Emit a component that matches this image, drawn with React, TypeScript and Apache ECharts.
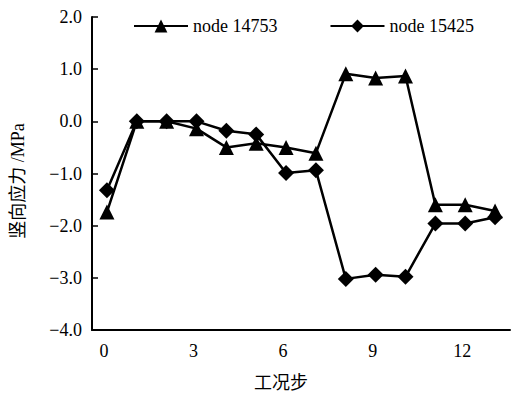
import React, { useEffect, useRef } from "react";
import * as echarts from "echarts";

const steps = ["0", "1", "2", "3", "4", "5", "6", "7", "8", "9", "10", "11", "12", "13"];
const node14753 = [-1.74, 0.0, 0.0, -0.14, -0.5, -0.42, -0.5, -0.61, 0.91, 0.83, 0.87, -1.6, -1.6, -1.72];
const node15425 = [-1.32, 0.0, 0.0, 0.0, -0.18, -0.25, -0.99, -0.94, -3.02, -2.94, -2.98, -1.96, -1.96, -1.84];
const seriesNames = ["node 14753", "node 15425"];
const xAxisName = "工况步";
const yAxisName = "竖向应力 /MPa";

const serif = "Liberation Serif, Noto Sans CJK SC, serif";

export default function App() {
  const ref = useRef<HTMLDivElement>(null);
  useEffect(() => {
    if (!ref.current) return;
    const chart = echarts.init(ref.current, undefined, { renderer: "svg" });
    chart.setOption({
      animation: false,
      backgroundColor: "#fff",
      grid: { left: 92, right: 8, top: 17, bottom: 69, containLabel: false },
      legend: {
        top: 12,
        left: 128,
        itemWidth: 54,
        itemHeight: 16,
        itemGap: 52,
        textStyle: { fontFamily: serif, fontSize: 18, color: "#000" },
        data: seriesNames,
      },
      graphic: [
        {
          type: "text",
          x: 281,
          y: 383,
          style: {
            text: xAxisName,
            fontFamily: serif,
            fontSize: 18,
            fill: "#000",
            align: "center",
            verticalAlign: "middle",
          },
        },
        {
          type: "text",
          x: 18,
          y: 181,
          rotation: Math.PI / 2,
          style: {
            text: yAxisName,
            fontFamily: serif,
            fontSize: 18,
            fill: "#000",
            align: "center",
            verticalAlign: "middle",
          },
        },
      ],
      xAxis: {
        type: "category",
        data: steps,
        boundaryGap: true,
        axisLine: { onZero: false, lineStyle: { color: "#000", width: 2 } },
        axisTick: { inside: true, length: 6, interval: 0, lineStyle: { color: "#000", width: 1.5 } },
        axisLabel: {
          interval: 2,
          margin: 12,
          fontFamily: serif,
          fontSize: 18,
          color: "#000",
          padding: [0, 6, 0, 0],
        },
        splitLine: { show: false },
      },
      yAxis: {
        type: "value",
        min: -4,
        max: 2,
        interval: 1,
        axisLine: { show: true, lineStyle: { color: "#000", width: 2 } },
        axisTick: { show: true, inside: true, length: 6, lineStyle: { color: "#000", width: 1.5 } },
        axisLabel: {
          margin: 10,
          fontFamily: serif,
          fontSize: 18,
          color: "#000",
          formatter: (v: number) => (v < 0 ? "\u2212" + Math.abs(v).toFixed(1) : v.toFixed(1)),
        },
        splitLine: { show: false },
      },
      series: [
        {
          name: seriesNames[0],
          type: "line",
          data: node14753,
          symbol: "triangle",
          symbolSize: 15,
          lineStyle: { color: "#000", width: 2.5 },
          itemStyle: { color: "#000" },
        },
        {
          name: seriesNames[1],
          type: "line",
          data: node15425,
          symbol: "diamond",
          symbolSize: 16,
          lineStyle: { color: "#000", width: 2.5 },
          itemStyle: { color: "#000" },
        },
      ],
    });
    return () => chart.dispose();
  }, []);
  return <div ref={ref} style={{ width: 518, height: 399, position: "absolute", left: 0, top: 0 }} />;
}
